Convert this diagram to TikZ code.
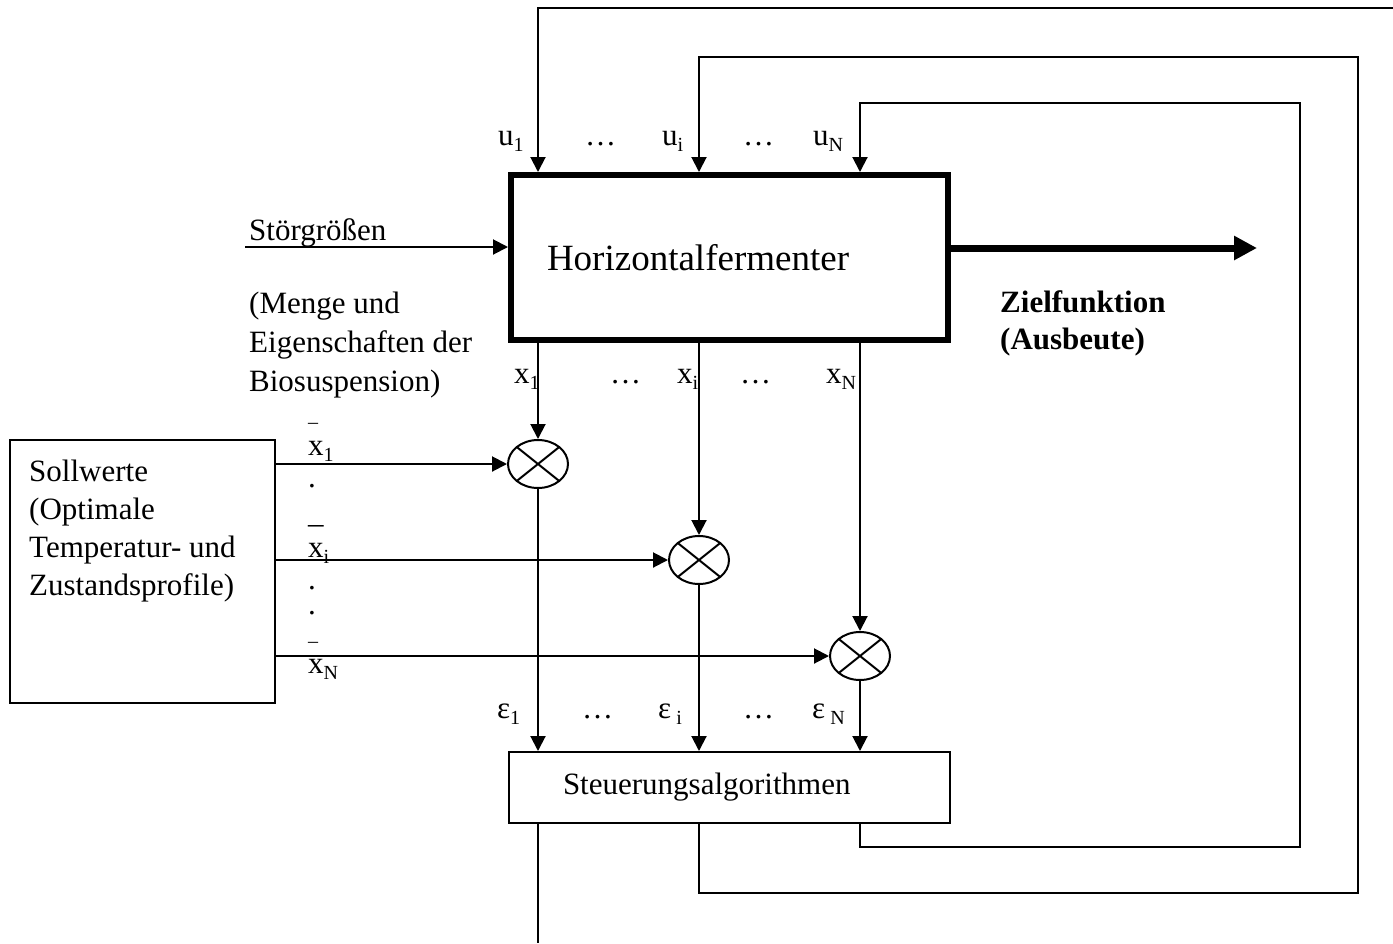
\documentclass[tikz,border=0pt]{standalone}
\usepackage{fontspec}
\setmainfont{Liberation Serif}
\usetikzlibrary{arrows.meta, shapes.geometric, calc, positioning}
\newcommand\lowidx[1]{\raisebox{-6pt}{\fontsize{20}{20}\selectfont #1}}
\tikzset{
  % testo
  txt/.style={font=\fontsize{31}{38}\selectfont},
  lbl/.style={txt, inner sep=0pt, anchor=base west, align=left},
  smalllbl/.style={lbl, font=\fontsize{20}{20}\selectfont},
  % scatole
  box/.style={draw, line width=2pt, inner ysep=0pt, align=left, txt},
  procbox/.style={draw, line width=6pt, inner ysep=0pt, align=left,
    font=\fontsize{37}{44}\selectfont},
  % nodo di confronto
  mixer/.style={ellipse, draw, line width=2pt, minimum width=60pt, minimum height=48pt,
    inner sep=0pt, path picture={
      \draw[line width=2pt] (path picture bounding box.north west) -- (path picture bounding box.south east)
        (path picture bounding box.north east) -- (path picture bounding box.south west);}},
  % collegamenti
  wire/.style={line width=2pt},
  sig/.style={wire, -{Triangle[length=15pt, width=15pt]}},
  outarrow/.style={line width=7pt, -{Triangle[length=23pt, width=23pt]}},
}
\begin{document}
\begin{tikzpicture}[x=1pt, y=-1pt]
  \useasboundingbox (0,0) rectangle (1393,943);
  % blocchi
  \node[procbox, minimum width=437pt, minimum height=165pt, text width=365pt, inner xsep=36pt]
    (ferm) at (729.5,257.5) {Horizontalfermenter};
  \node[box, minimum width=441pt, minimum height=71pt, text width=333pt, inner xsep=54pt]
    (steu) at (729.5,787.5) {Steuerungsalgorithmen};
  \node[box, minimum width=265pt, minimum height=263pt] (soll) at (142.5,571.5) {};
  % ancora sull'ultima riga
  \node[lbl] (sollt) at (29,595) {Sollwerte\\(Optimale\\Temperatur- und\\Zustandsprofile)};
  \node[mixer] (m1) at (538,464) {};
  \node[mixer] (mi) at (699,560) {};
  \node[mixer] (mN) at (860,656) {};
  % punti liberi
  \coordinate (stoer) at (245,247);
  \coordinate (ziel) at (1257,248);
  \coordinate (ru1) at (1393,8);
  \coordinate (fbi) at (1358,893); \coordinate (fti) at (1358,57);
  \coordinate (fbN) at (1300,847); \coordinate (ftN) at (1300,103);
  \coordinate (aus) at (538,943);
  % collegamenti
  \draw[sig] (stoer) -- (ferm.west |- stoer);
  \draw[outarrow] (ferm.east |- ziel) -- (ziel);
  \draw[sig] (ru1) -| (ferm.north -| m1);
  \draw[wire] (steu.south -| m1) -- (aus);
  \foreach \m/\b/\t in {mi/fbi/fti, mN/fbN/ftN}
    \draw[sig] (steu.south -| \m) |- (\b) -- (\t) -| (ferm.north -| \m);
  \foreach \m in {m1, mi, mN} {
    \draw[sig] (ferm.south -| \m) -- (\m);
    \draw[sig] (soll.east |- \m) -- (\m);
    \draw[sig] (\m) -- (steu.north -| \m);
  }
  % etichette
  \node[lbl] (stoert) at (249,240) {Störgrößen};
  \node[lbl, font=\fontsize{31}{39}\selectfont] (menge) at (249,391) {(Menge und\\Eigenschaften der\\Biosuspension)};
  \node[lbl, font=\fontsize{31}{37}\selectfont\bfseries] (zielt) at (1000,349) {Zielfunktion\\(Ausbeute)};
  \node[lbl] (u1) at (498,145) {u\lowidx{1}};
  \node[lbl] (ud1) at (585,145) {…};
  \node[lbl] (ui) at (662,145) {u\lowidx{i}};
  \node[lbl] (ud2) at (743,145) {…};
  \node[lbl] (uN) at (813,145) {u\lowidx{N}};
  \node[lbl] (x1) at (514,383) {x\lowidx{1}};
  \node[lbl] (xd1) at (610,383) {…};
  \node[lbl] (xi) at (677,383) {x\lowidx{i}};
  \node[lbl] (xd2) at (740,383) {…};
  \node[lbl] (xN) at (826,383) {x\lowidx{N}};
  \node[lbl] (e1) at (497,718) {ε\lowidx{1}};
  \node[lbl] (ed1) at (582,718) {…};
  \node[lbl] (ei) at (658,718) {ε\,\lowidx{i}};
  \node[lbl] (ed2) at (743,718) {…};
  \node[lbl] (eN) at (812,718) {ε\,\lowidx{N}};
  % valori nominali
  \node[smalllbl] (bar1) at (308,428) {–};
  \node[lbl] (s1) at (308,455) {x\lowidx{1}};
  \node[lbl] (dot1) at (308,487) {.};
  \node[lbl] (bari) at (308,533) {–};
  \node[lbl] (si) at (308,557) {x\lowidx{i}};
  \node[lbl] (dot2) at (308,589) {.};
  \node[lbl] (dot3) at (308,614) {.};
  \node[smalllbl] (barN) at (308,647) {–};
  \node[lbl] (sN) at (308,673) {x\lowidx{N}};
\end{tikzpicture}
\end{document}
